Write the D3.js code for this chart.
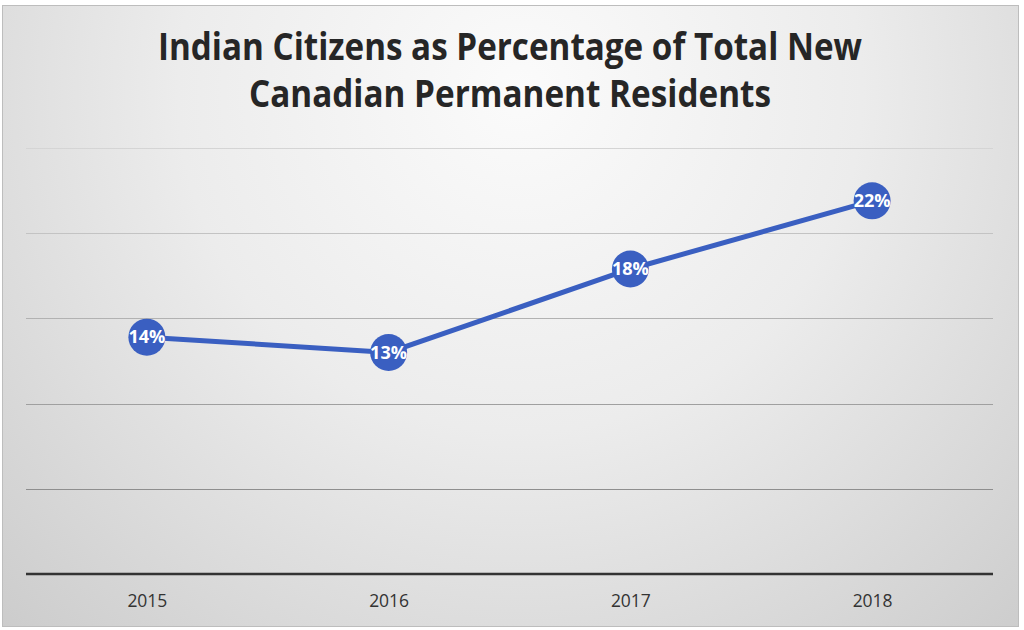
<!DOCTYPE html>
<html>
<head>
<meta charset="utf-8">
<script src="https://cdn.jsdelivr.net/npm/d3@7"></script>
<style>
html,body{margin:0;padding:0;background:#fff;}
svg{display:block;}
</style>
</head>
<body>
<svg id="chart" width="1024" height="630"></svg>
<script>
const titleLines = ["Indian Citizens as Percentage of Total New", "Canadian Permanent Residents"];
const years = ["2015", "2016", "2017", "2018"];
const values = [13.9, 13.0, 17.9, 21.9];
const labels = ["14%", "13%", "18%", "22%"];
const yTicks = [0, 5, 10, 15, 20, 25];

const W = 1024, H = 630;
const svg = d3.select("#chart");
const defs = svg.append("defs");

const bg = defs.append("radialGradient").attr("id", "bg")
  .attr("gradientUnits", "userSpaceOnUse")
  .attr("cx", 520).attr("cy", 90).attr("r", 760);
bg.append("stop").attr("offset", "0").attr("stop-color", "#fbfbfb");
bg.append("stop").attr("offset", "0.45").attr("stop-color", "#ececec");
bg.append("stop").attr("offset", "1").attr("stop-color", "#cbcbcb");

const gg = defs.append("linearGradient").attr("id", "grid")
  .attr("gradientUnits", "userSpaceOnUse")
  .attr("x1", 0).attr("y1", 140).attr("x2", 0).attr("y2", 500);
gg.append("stop").attr("offset", "0").attr("stop-color", "#d6d6d6");
gg.append("stop").attr("offset", "1").attr("stop-color", "#8c8c8c");

svg.append("rect").attr("width", W).attr("height", H).attr("fill", "#fff");
svg.append("rect").attr("x", 2.5).attr("y", 5.5).attr("width", 1016).attr("height", 621)
  .attr("fill", "url(#bg)").attr("stroke", "#bdbdbd").attr("stroke-width", 1);

const x = d3.scalePoint().domain(years).range([26, 993]).padding(0.5);
const y = d3.scaleLinear().domain([0, 25]).range([574, 148]);

// gridlines
svg.append("g").selectAll("line").data(yTicks.filter(d => d > 0)).join("line")
  .attr("x1", 26).attr("x2", 993)
  .attr("y1", d => Math.round(y(d)) + 0.5).attr("y2", d => Math.round(y(d)) + 0.5)
  .attr("stroke", "url(#grid)").attr("stroke-width", 1.2);

// x axis
const xAxis = svg.append("g").attr("transform", `translate(0,${y(0)})`)
  .call(d3.axisBottom(x).tickSize(0).tickPadding(21));
xAxis.select(".domain").attr("stroke", "#333").attr("stroke-width", 2.6)
  .attr("d", "M26,0H993");
xAxis.selectAll("text").attr("font-family", "'Open Sans', sans-serif")
  .attr("font-size", 17.5).attr("fill", "#333")
  .attr("textLength", 40).attr("lengthAdjust", "spacingAndGlyphs");

// line
svg.append("path").datum(values)
  .attr("d", d3.line().x((d, i) => x(years[i])).y(d => y(d)))
  .attr("fill", "none").attr("stroke", "#3a5fc1").attr("stroke-width", 5);

// markers
const pts = svg.append("g").selectAll("g").data(values).join("g")
  .attr("transform", (d, i) => `translate(${x(years[i])},${y(d)})`);
pts.append("circle").attr("r", 18.5).attr("fill", "#3a5fc1");
pts.append("text").text((d, i) => labels[i])
  .attr("text-anchor", "middle").attr("dy", "0.36em")
  .attr("font-family", "'Open Sans', sans-serif").attr("font-weight", 700)
  .attr("font-size", 17.5).attr("fill", "#fff")
  .attr("textLength", 37).attr("lengthAdjust", "spacingAndGlyphs");

// title
const tl = [{t: titleLines[0], y: 60, w: 704}, {t: titleLines[1], y: 107, w: 522}];
svg.append("g").selectAll("text").data(tl).join("text")
  .attr("x", 510).attr("y", d => d.y).attr("text-anchor", "middle")
  .attr("font-family", "'Open Sans', sans-serif").attr("font-weight", 700)
  .attr("font-size", 38).attr("fill", "#262626")
  .attr("textLength", d => d.w).attr("lengthAdjust", "spacingAndGlyphs")
  .text(d => d.t);
</script>
</body>
</html>
